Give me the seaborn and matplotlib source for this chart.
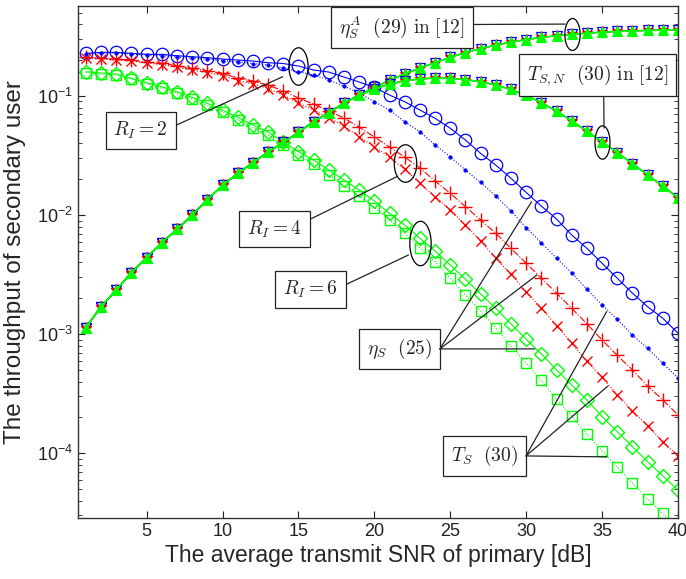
import numpy as np
import matplotlib
matplotlib.use("Agg")
import matplotlib.pyplot as plt
import seaborn as sns
from matplotlib.path import Path

# average transmit SNR of primary [dB]
snr_db = np.arange(1, 41)

# eta_S^A (29) in [12]  (same for R_I = 2, 4, 6)
eta_a = [1.135e-3, 1.702e-3, 2.350e-3, 3.281e-3, 4.385e-3, 5.861e-3, 7.586e-3, 1.002e-2,
         1.349e-2, 1.778e-2, 2.239e-2, 2.754e-2, 3.388e-2, 4.074e-2, 4.955e-2, 6.095e-2,
         7.244e-2, 8.710e-2, 0.1023, 0.1183, 0.1355, 0.1531, 0.1718, 0.1905, 0.2113,
         0.2317, 0.2500, 0.2679, 0.2838, 0.2979, 0.3105, 0.3206, 0.3296, 0.3373, 0.3436,
         0.3483, 0.3524, 0.3556, 0.3581, 0.3606]

# T_S,N (30) in [12]  (same for R_I = 2, 4, 6)
ts_n = [1.135e-3, 1.702e-3, 2.350e-3, 3.281e-3, 4.385e-3, 5.861e-3, 7.586e-3, 1.002e-2,
        1.349e-2, 1.778e-2, 2.239e-2, 2.754e-2, 3.388e-2, 4.074e-2, 4.955e-2, 6.095e-2,
        7.244e-2, 8.710e-2, 0.1012, 0.1148, 0.1259, 0.1343, 0.1393, 0.1413, 0.1406,
        0.1374, 0.1318, 0.1239, 0.1135, 0.1012, 0.0881, 0.0745, 0.0617, 0.0507, 0.0412,
        0.0335, 0.0270, 0.0218, 0.0175, 0.0140]

# eta_S (25)
eta_ri2 = [0.2283, 0.2327, 0.2327, 0.2283, 0.2239, 0.2239, 0.2180, 0.2138, 0.2097, 0.2045,
           0.2006, 0.1967, 0.1904, 0.1875, 0.1786, 0.1653, 0.1590, 0.1443, 0.1311, 0.1183,
           0.1019, 0.0896, 0.0763, 0.0650, 0.0536, 0.0427, 0.0330, 0.0263, 0.0204, 0.0155,
           0.0119, 9.27e-3, 6.81e-3, 5.26e-3, 3.94e-3, 2.95e-3, 2.21e-3, 1.70e-3, 1.36e-3, 1.02e-3]
eta_ri4 = [0.2113, 0.2073, 0.2045, 0.2006, 0.1919, 0.1882, 0.1796, 0.1708, 0.1631, 0.1551,
           0.1416, 0.1336, 0.1237, 0.1102, 0.0962, 0.0857, 0.0748, 0.0654, 0.0549, 0.0453,
           0.0373, 0.0307, 0.0249, 0.0193, 0.01524, 0.01176, 9.10e-3, 7.04e-3, 5.26e-3, 3.94e-3,
           2.95e-3, 2.21e-3, 1.65e-3, 1.22e-3, 8.94e-4, 6.63e-4, 5.01e-4, 3.67e-4, 2.80e-4, 2.10e-4]
eta_ri6 = [0.1600, 0.1560, 0.1530, 0.1408, 0.1293, 0.1197, 0.1087, 0.0975, 0.0868, 0.0763,
           0.0663, 0.0571, 0.0498, 0.0411, 0.0341, 0.0290, 0.0239, 0.0197, 0.01625, 0.01313,
           0.01035, 8.26e-3, 6.39e-3, 5.00e-3, 3.81e-3, 2.89e-3, 2.18e-3, 1.65e-3, 1.22e-3, 9.06e-4,
           6.82e-4, 5.01e-4, 3.75e-4, 2.80e-4, 2.03e-4, 1.52e-4, 1.136e-4, 8.50e-5, 6.45e-5, 4.92e-5]

# T_S (30)
ts_ri2 = [0.2252, 0.2296, 0.2296, 0.2252, 0.2209, 0.2188, 0.2126, 0.2085, 0.2045, 0.1987,
          0.1930, 0.1875, 0.1821, 0.1718, 0.1600, 0.1501, 0.1362, 0.1213, 0.1060, 0.0896,
          0.0763, 0.0608, 0.0502, 0.0388, 0.0309, 0.0239, 0.0188, 0.01447, 0.01083, 7.84e-3,
          5.87e-3, 4.34e-3, 3.28e-3, 2.38e-3, 1.76e-3, 1.33e-3, 9.85e-4, 7.59e-4, 5.70e-4, 4.29e-4]
ts_ri4 = [0.2085, 0.2045, 0.2006, 0.1967, 0.1893, 0.1838, 0.1751, 0.1653, 0.1575, 0.1486,
          0.1349, 0.1261, 0.1156, 0.1019, 0.0873, 0.0763, 0.0654, 0.0560, 0.0455, 0.0375,
          0.0307, 0.0242, 0.0185, 0.01427, 0.01104, 8.26e-3, 6.06e-3, 4.34e-3, 3.18e-3, 2.27e-3,
          1.65e-3, 1.18e-3, 8.39e-4, 5.92e-4, 4.33e-4, 3.09e-4, 2.27e-4, 1.70e-4, 1.25e-4, 9.49e-5]
ts_ri6 = [0.1575, 0.1530, 0.1501, 0.1381, 0.1269, 0.1167, 0.1060, 0.0944, 0.0840, 0.0734,
          0.0635, 0.0544, 0.0470, 0.0388, 0.0320, 0.0269, 0.0217, 0.0177, 0.01447, 0.01158,
          9.10e-3, 7.04e-3, 5.32e-3, 4.06e-3, 2.95e-3, 2.13e-3, 1.57e-3, 1.12e-3, 8.01e-4, 5.73e-4,
          4.09e-4, 2.84e-4, 2.06e-4, 1.44e-4, 1.05e-4, 7.63e-5, 5.60e-5, 4.13e-5, 3.13e-5, 2.27e-5]

sns.set_style("ticks")
plt.rcParams["font.family"] = ["Liberation Sans", "DejaVu Sans"]

fig = plt.figure(figsize=(6.86, 5.79), dpi=100)
ax = fig.add_axes([0.1141, 0.1048, 0.8742, 0.8848])

# eta_S (25): solid / dash-dot with hollow markers
sns.lineplot(x=snr_db, y=eta_ri2, ax=ax, color="b", ls="-", lw=0.8,
             marker="o", ms=9, mfc="none", mec="b", mew=0.9)
sns.lineplot(x=snr_db, y=eta_ri4, ax=ax, color="r", ls="-.", lw=0.8,
             marker="+", ms=10, mec="r", mew=1.0)
sns.lineplot(x=snr_db, y=eta_ri6, ax=ax, color="lime", ls="-", lw=0.8,
             marker="D", ms=7, mfc="none", mec="lime", mew=1.0)

# T_S (30): dotted
sns.lineplot(x=snr_db, y=ts_ri2, ax=ax, color="b", ls=":", lw=0.8,
             marker=".", ms=5, mfc="b", mec="b", mew=0.5)
sns.lineplot(x=snr_db, y=ts_ri4, ax=ax, color="r", ls=":", lw=0.8,
             marker="x", ms=7, mec="r", mew=1.0)
sns.lineplot(x=snr_db, y=ts_ri6, ax=ax, color="lime", ls=":", lw=0.8,
             marker="s", ms=7, mfc="none", mec="lime", mew=1.0)

# [12] curves, drawn for the three R_I on top of each other
for vals in (eta_a, ts_n):
    sns.lineplot(x=snr_db, y=vals, ax=ax, color="b", lw=0.8,
                 marker="v", ms=7, mfc="none", mec="b", mew=0.9)
    sns.lineplot(x=snr_db, y=vals, ax=ax, color="r", lw=0.8,
                 marker="*", ms=8, mfc="none", mec="r", mew=0.9)
    sns.lineplot(x=snr_db, y=vals, ax=ax, color="lime", lw=1.3,
                 marker="^", ms=6.5, mfc="lime", mec="lime", mew=0.8)

ax.set_yscale("log")
ax.set_xlim(0.5, 40)
ax.set_ylim(2.84e-5, 0.57)
ax.set_xticks([5, 10, 15, 20, 25, 30, 35, 40])
ax.tick_params(which="both", direction="in", top=True, right=True, labelsize=13,
               colors="#222222")
ax.tick_params(which="major", length=5)
ax.tick_params(which="minor", length=3)
for sp in ax.spines.values():
    sp.set_color("#333333")
    sp.set_linewidth(1.0)

ax.set_xlabel("The average transmit SNR of primary [dB]", fontsize=16.5, labelpad=3)
ax.set_ylabel("The throughput of secondary user", fontsize=17.5, labelpad=8)


def ellipse(ratio):
    t = np.linspace(0, 2 * np.pi, 73)
    return Path(np.column_stack([ratio * np.cos(t), np.sin(t)]))


ell_kw = dict(ls="none", mfc="none", mec="k", mew=0.9)
ax.plot(33, eta_a[32], marker=ellipse(0.48), ms=23, **ell_kw)
ax.plot(35, ts_n[34], marker=ellipse(0.45), ms=24, **ell_kw)
ax.plot(15, eta_ri2[14], marker=ellipse(0.51), ms=27, **ell_kw)
ax.plot(22, np.sqrt(eta_ri4[21] * ts_ri4[21]), marker=ellipse(0.6), ms=27, **ell_kw)
ax.plot(23, np.sqrt(eta_ri6[22] * ts_ri6[22]), marker=ellipse(0.48), ms=32, **ell_kw)

box = dict(boxstyle="square,pad=0.4", fc="white", ec="#222222", lw=0.9)
txt = dict(fontsize=14, math_fontfamily="cm", ha="center", va="center", bbox=box)
line = dict(arrowstyle="-", color="#222222", lw=0.9, shrinkA=0, shrinkB=0)

ax.annotate(r"$\eta_S^A\ \ (29)\ \mathrm{in}\ [12]$", xy=(32.56, 0.402), xytext=(21.82, 0.3795),
            arrowprops=dict(relpos=(1, 0.6), **line), **txt)
ax.annotate(r"$T_{S,N}\ \ (30)\ \mathrm{in}\ [12]$", xy=(35.13, 0.0539), xytext=(34.73, 0.150),
            arrowprops=dict(relpos=(0.54, 0), **line), **txt)
ax.annotate(r"$R_I = 2$", xy=(13.96, 0.1452), xytext=(4.62, 0.0515),
            arrowprops=dict(relpos=(1, 0.57), **line), **txt)
ax.annotate(r"$R_I = 4$", xy=(21.47, 0.0210), xytext=(13.42, 0.00764),
            arrowprops=dict(relpos=(1, 0.77), **line), **txt)
ax.annotate(r"$R_I = 6$", xy=(22.25, 0.00462), xytext=(15.80, 0.00237),
            arrowprops=dict(relpos=(1, 0.56), **line), **txt)

# eta_S (25) and T_S (30) boxes with three leader lines each
txt_r = dict(txt, ha="right")
ax.text(23.81, 7.52e-4, r"$\eta_S\ \ (25)$", **txt_r)
for end in [(30.36, 0.01296), (30.71, 0.00314), (30.58, 7.52e-4)]:
    ax.annotate("", xy=end, xytext=(24.32, 7.52e-4), arrowprops=line)
ax.text(29.47, 9.49e-5, r"$T_S\ \ (30)$", **txt_r)
for end in [(35.30, 1.545e-3), (35.39, 3.67e-4), (35.32, 9.32e-5)]:
    ax.annotate("", xy=end, xytext=(29.99, 9.49e-5), arrowprops=line)

plt.savefig("out.png", dpi=100)
